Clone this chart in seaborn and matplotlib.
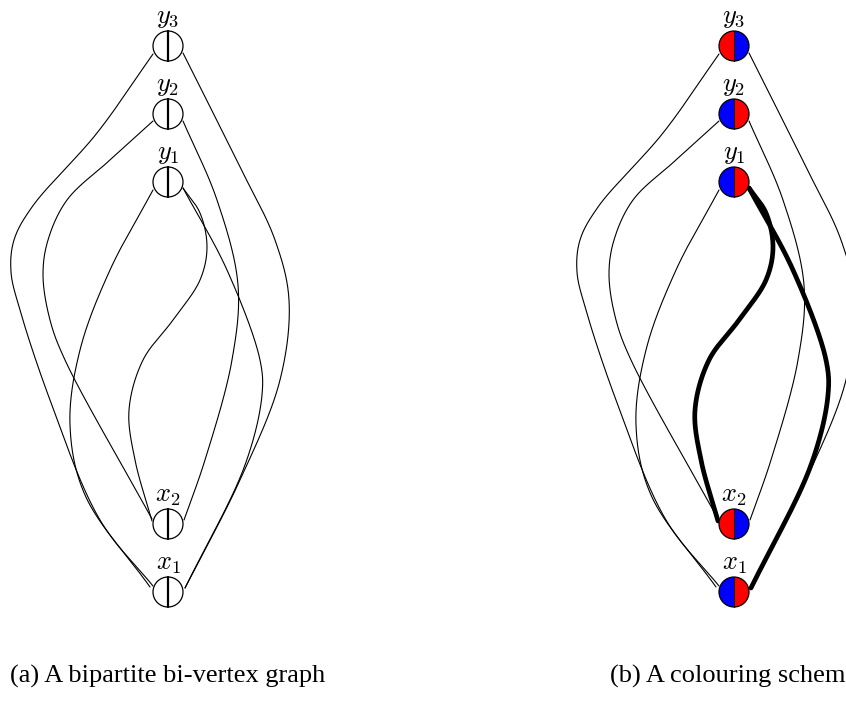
import numpy as np
import matplotlib
matplotlib.use("Agg")
import matplotlib.pyplot as plt
import seaborn as sns
from matplotlib.patches import Wedge, Circle

# -----------------------------
# Data: nodes, colours, edges
# -----------------------------
node_names = ["y3", "y2", "y1", "x2", "x1"]
node_labels = ["$y_3$", "$y_2$", "$y_1$", "$x_2$", "$x_1$"]
node_y = [46, 114, 182, 524, 592]

# colouring of panel (b): (left half, right half)
left_colour = ["red", "blue", "blue", "red", "blue"]
right_colour = ["blue", "red", "red", "blue", "red"]

# edges: (from, to, bold in panel b)
edge_from = ["y3", "y2", "y1", "y3", "y2", "y1", "y1"]
edge_to = ["x1", "x2", "x1", "x1", "x2", "x1", "x2"]
edge_bold = [False, False, False, False, False, True, True]

# waypoints (dx from node column, y in pixels)
edge_dx = [
    [-15, -71, -136, -154, -157, -148, -118, -68, -15],
    [-15, -58, -101, -120, -125, -118, -103, -16],
    [-15, -58, -88, -98, -83, -18],
    [15, 72, 107, 121, 112, 72, 17],
    [15, 49, 70, 64, 37, 16],
    [15, 59, 92, 94, 77, 17],
    [15, 32, 39, 32, 5, -25, -39, -33, -16],
]
edge_py = [
    [54, 133, 207, 240, 272, 310, 400, 520, 586],
    [121, 160, 200, 240, 275, 320, 360, 519],
    [190, 270, 350, 425, 495, 587],
    [53, 167, 240, 300, 380, 480, 588],
    [121, 200, 285, 360, 460, 520],
    [188, 270, 360, 395, 465, 588],
    [188, 213, 247, 280, 320, 360, 410, 460, 521],
]

panel_x = [168, 734]
captions = ["(a) A bipartite bi-vertex graph", "(b) A colouring scheme"]


def smooth_curve(xs, ys, steps=40):
    # centripetal Catmull-Rom through the waypoints (drawing only)
    pts = np.column_stack([xs, ys]).astype(float)
    pts = np.vstack([2 * pts[0] - pts[1], pts, 2 * pts[-1] - pts[-2]])
    out = []
    for i in range(1, len(pts) - 2):
        p0, p1, p2, p3 = pts[i - 1], pts[i], pts[i + 1], pts[i + 2]
        t0 = 0.0
        t1 = t0 + np.linalg.norm(p1 - p0) ** 0.5
        t2 = t1 + np.linalg.norm(p2 - p1) ** 0.5
        t3 = t2 + np.linalg.norm(p3 - p2) ** 0.5
        t = np.linspace(t1, t2, steps)[:, None]
        a1 = (t1 - t) / (t1 - t0) * p0 + (t - t0) / (t1 - t0) * p1
        a2 = (t2 - t) / (t2 - t1) * p1 + (t - t1) / (t2 - t1) * p2
        a3 = (t3 - t) / (t3 - t2) * p2 + (t - t2) / (t3 - t2) * p3
        b1 = (t2 - t) / (t2 - t0) * a1 + (t - t0) / (t2 - t0) * a2
        b2 = (t3 - t) / (t3 - t1) * a2 + (t - t1) / (t3 - t1) * a3
        c = (t2 - t) / (t2 - t1) * b1 + (t - t1) / (t2 - t1) * b2
        out.append(c if i == 1 else c[1:])
    c = np.vstack(out)
    return c[:, 0], c[:, 1]


sns.set_theme(style="white")
plt.rcParams["mathtext.fontset"] = "cm"

fig = plt.figure(figsize=(8.46, 7.04), dpi=100)
ax = fig.add_axes([0, 0, 1, 1])
ax.set_xlim(0, 846)
ax.set_ylim(704, 0)
ax.set_axis_off()

r = 15
for p, cx in enumerate(panel_x):
    coloured = p == 1
    # edges
    for k in range(len(edge_from)):
        xs = [cx + d for d in edge_dx[k]]
        cxs, cys = smooth_curve(xs, edge_py[k])
        lw = 3.4 if (coloured and edge_bold[k]) else 0.8
        ax.plot(cxs, cys, color="black", lw=lw, zorder=1,
                solid_capstyle="round", solid_joinstyle="round")
    # nodes
    for i, name in enumerate(node_names):
        cy = node_y[i]
        if coloured:
            ax.add_patch(Wedge((cx, cy), r, 90, 270, facecolor=left_colour[i],
                               edgecolor="none", zorder=3))
            ax.add_patch(Wedge((cx, cy), r, 270, 90, facecolor=right_colour[i],
                               edgecolor="none", zorder=3))
            ax.plot([cx, cx], [cy - r, cy + r], color="#300000", lw=0.8, zorder=4)
        else:
            ax.add_patch(Circle((cx, cy), r, facecolor="white",
                                edgecolor="none", zorder=3))
            ax.plot([cx, cx], [cy - r, cy + r], color="black", lw=1.6, zorder=4)
        ax.add_patch(Circle((cx, cy), r, facecolor="none", edgecolor="black",
                            lw=0.9, zorder=5))
        ax.text(cx, cy - 29, node_labels[i], ha="center", va="center",
                fontsize=19, color="black")
    # subcaption centred under its graph (the right one runs off the edge)
    ax.text(cx, 676, captions[p], ha="center", va="center",
            fontsize=19, family="Liberation Serif", color="black")

fig.savefig("out.png", dpi=100)
